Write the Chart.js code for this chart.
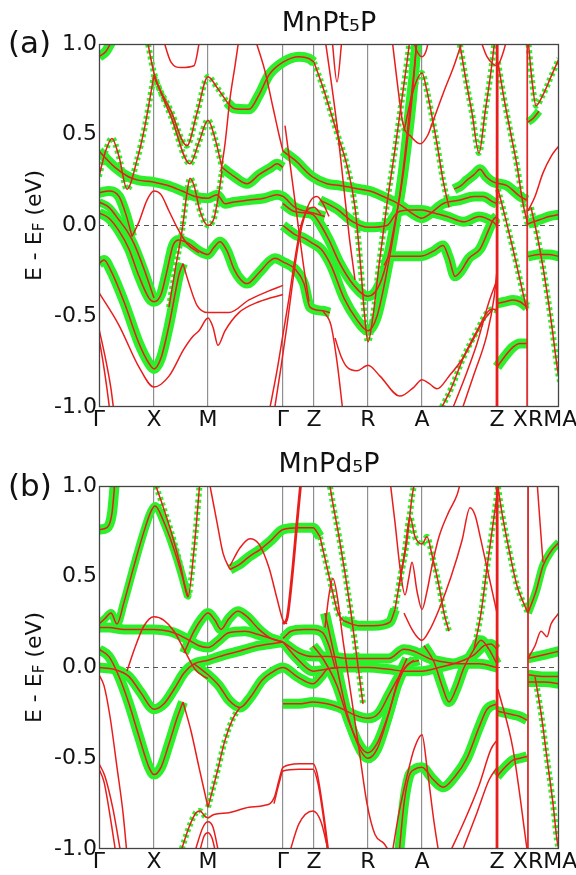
<!DOCTYPE html>
<html><head><meta charset="utf-8">
<script src="https://cdn.jsdelivr.net/npm/chart.js@4.4.0/dist/chart.umd.min.js"></script>
<style>
html,body{margin:0;padding:0;background:#fff;}
#wrap{position:relative;width:576px;height:875px;overflow:hidden;}
canvas{position:absolute;left:0;}
#ca{top:0;} #cb{top:440px;}
</style></head><body>
<div id="wrap"><canvas id="ca" width="576" height="440"></canvas><canvas id="cb" width="576" height="435"></canvas></div>
<script>
// ---- k-path (high-symmetry points, in path-length units) ----
const tickPos    = [0, 55, 109, 184, 215, 269, 323, 398, 429, 446, 460];
const tickLabels = ['Γ','X','M','Γ','Z','R','A','Z','','XRMA',''];
const symLines   = [55, 109, 184, 215, 269, 323, 398, 429];
const energyTicks = [-1.0, -0.5, 0.0, 0.5, 1.0];

// ---- Panel (a) MnPt5P bands: [k, E-EF] ----
const a01=[[0,0.93],[7,0.96],[14,1.03]];
const a02=[[0,0.27],[6,0.40],[13,0.48],[20,0.38],[28,0.20],[38,0.36],[46,0.55],[55,0.83]];
const a03=[[48,1.03],[55,0.84],[72,0.63],[88,0.44],[98,0.62],[109,0.82],[118,0.76],[128,0.68]];
const a04=[[128,0.68],[135,0.645],[150,0.64],[160,0.72],[170,0.83],[184,0.90],[200,0.93],[210,0.92],[215,0.90]];
const a05=[[215,0.90],[224,0.76],[238,0.51],[248,0.33],[256,0.10],[262,-0.25],[266,-0.52],[269,-0.64],[274,-0.50],[280,-0.22],[288,0.12],[296,0.42],[303,0.70],[308,0.90],[311,1.03]];
const a06=[[55,0.82],[72,0.60],[91,0.34],[100,0.46],[109,0.58],[116,0.48],[123,0.32]];
const a07=[[64,1.03],[72,0.90],[82,0.87],[95,0.88],[101,1.03]];
const a08=[[0,0.41],[16,0.32],[29,0.27],[39,0.25],[54,0.24],[69,0.22],[83,0.19],[96,0.16],[109,0.15],[118,0.17],[126,0.12],[135,0.13],[150,0.14],[165,0.15],[178,0.17],[184,0.16],[196,0.10],[213,0.07],[226,0.05]];
const a09=[[123,0.32],[135,0.27],[148,0.23],[160,0.28],[172,0.32],[178,0.34],[184,0.32]];
const a10=[[156,1.03],[166,0.85],[174,0.65],[180,0.50],[184,0.41]];
const a11=[[184,0.41],[196,0.36],[213,0.27],[228,0.23],[241,0.22],[261,0.20],[271,0.19],[288,0.15],[296,0.13]];
const a12=[[0,0.18],[10,0.19],[20,0.16],[27,0.06],[33,-0.06]];
const a13=[[33,-0.06],[40,0.02],[48,0.14],[55,0.19],[62,0.17],[70,0.08],[78,-0.01],[88,-0.10],[100,-0.15]];
const a14=[[0,0.07],[10,0.04],[20,-0.03],[30,-0.13],[40,-0.28],[50,-0.40],[55,-0.42],[62,-0.38],[68,-0.25],[74,-0.11],[80,-0.08],[90,-0.10],[100,-0.14],[109,-0.16],[115,-0.12],[121,-0.09],[128,-0.14],[135,-0.24],[142,-0.30],[148,-0.32],[160,-0.26],[170,-0.20],[176,-0.18],[184,-0.20],[196,-0.24],[205,-0.32],[211,-0.45],[224,-0.47],[231,-0.48]];
const a15=[[0,0.13],[10,0.10],[20,0.03],[28,-0.03],[35,-0.10],[45,-0.24],[55,-0.40]];
const a16=[[0,-0.21],[5,-0.19],[12,-0.25],[25,-0.42],[40,-0.65],[50,-0.76],[55,-0.79],[62,-0.73],[70,-0.55],[76,-0.38],[80,-0.27],[84,-0.21]];
const a17=[[84,-0.21],[90,-0.32],[98,-0.44],[109,-0.48],[130,-0.48],[150,-0.41],[170,-0.36],[184,-0.33]];
const a18=[[0,-0.37],[20,-0.55],[40,-0.78],[55,-0.89],[70,-0.83],[85,-0.68],[94,-0.61],[100,-0.58],[109,-0.51],[114,-0.56],[119,-0.66],[126,-0.58],[140,-0.48],[160,-0.42],[184,-0.38]];
const a19=[[0,-0.57],[6,-0.72],[12,-0.90],[15,-1.03]];
const a20=[[0,-0.62],[4,-0.75],[8,-0.90],[11,-1.03]];
const a21=[[170,-1.03],[178,-0.80],[184,-0.60],[190,-0.40],[196,-0.18],[202,0.0],[208,0.08],[215,0.10],[222,0.06]];
const a22=[[175,-1.03],[182,-0.78],[188,-0.55],[194,-0.30],[200,-0.08],[206,0.06],[212,0.14],[218,0.16],[224,0.12],[230,0.05]];
const a23=[[184,0.12],[194,0.08],[205,0.07],[214,0.06],[222,0.0],[230,-0.08],[240,-0.20],[255,-0.33],[269,-0.39],[281,-0.32],[290,-0.15],[296,0.02],[302,0.20],[308,0.45],[313,0.70],[318,1.03]];
const a24=[[184,0.0],[196,-0.05],[205,-0.07],[214,-0.10],[222,-0.13],[232,-0.22],[245,-0.40],[258,-0.52],[269,-0.58],[278,-0.50],[288,-0.25],[296,0.0],[304,0.30],[310,0.60],[315,0.85],[318,1.03]];
const a26=[[221,0.14],[238,0.09],[254,0.02],[269,-0.01],[288,0.0],[298,0.07],[310,0.085],[323,0.085],[334,0.07],[348,0.05],[365,0.02],[380,0.05],[394,0.02],[398,0.0]];
const a27=[[296,0.13],[305,0.10],[315,0.06],[323,0.04],[330,0.06],[344,0.12],[361,0.14],[375,0.16],[384,0.16],[394,0.13],[398,0.12]];
const a28=[[285,-0.22],[291,-0.17],[305,-0.17],[321,-0.17],[335,-0.14],[344,-0.11],[350,-0.18],[356,-0.28],[362,-0.25],[370,-0.18],[381,-0.13],[390,-0.02],[394,0.03],[398,0.05]];
const a29=[[355,0.20],[362,0.22],[368,0.25],[375,0.28],[381,0.31],[387,0.27],[394,0.24],[408,0.22],[421,0.16],[428,0.14]];
const a31=[[236,-0.62],[242,-0.72],[248,-0.78],[258,-0.80],[269,-0.77],[281,-0.83],[301,-0.94],[315,-0.89],[323,-0.85],[330,-0.87],[338,-0.90],[350,-0.83],[364,-0.73],[375,-0.62],[385,-0.52],[394,-0.46]];
const a32=[[224,-0.47],[232,-0.55],[238,-0.75],[244,-1.03]];
const a33=[[340,-1.03],[352,-0.90],[365,-0.72],[378,-0.58],[388,-0.48],[394,-0.46],[398,-0.47]];
const a34=[[352,-1.03],[365,-0.85],[378,-0.65],[390,-0.42],[398,-0.30]];
const a35=[[362,-1.03],[375,-0.82],[388,-0.60],[395,-0.40],[398,-0.25]];
const a36=[[398,-1.0],[398.2,1.0]];
const a37=[[428,-1.0],[428.2,1.0]];
const a38=[[398,-0.43],[406,-0.42],[414,-0.41],[421,-0.42],[428,-0.45]];
const a39=[[398,-0.78],[406,-0.72],[414,-0.67],[421,-0.65],[428,-0.65]];
const a40=[[399,0.20],[406,0.05],[414,-0.13],[421,-0.30],[428,-0.47]];
const a41=[[399,0.90],[405,0.70],[412,0.50],[418,0.33],[424,0.12],[429,0.0]];
const a42=[[429,-0.17],[440,-0.16],[450,-0.16],[460,-0.17]];
const a43=[[429,0.01],[440,0.03],[450,0.05],[460,0.06]];
const a45=[[432,0.10],[438,-0.05],[444,-0.23],[452,-0.52],[459,-0.81],[461,-0.86]];
const a46=[[429,0.08],[436,0.16],[444,0.29],[452,0.38],[460,0.44]];
const a47=[[429,1.03],[433,0.80],[437,0.66],[444,0.72],[452,0.82],[460,0.92]];
const a48=[[429,0.57],[434,0.59],[440,0.63]];
const a49=[[360,1.03],[366,0.83],[373,0.62],[380,0.40],[386,0.62],[392,0.85],[396,1.03]];
const a50=[[381,1.03],[388,0.93],[394,0.89],[398,0.88],[404,0.95],[408,1.03]];
const a51=[[293,1.03],[298,0.80],[304,0.56],[312,0.49],[321,0.45],[329,0.50],[333,0.56],[345,0.74],[355,0.88],[364,1.03]];
const a52=[[305,0.52],[314,0.74],[323,0.84],[328,0.74],[333,0.60],[338,0.45],[344,0.25],[350,0.10]];
const a53=[[314,1.03],[318,0.96],[323,0.93],[327,0.96],[330,1.03]];
const a54=[[226,1.03],[232,0.80],[238,0.55],[244,0.25],[250,-0.05],[256,-0.30]];
const a55=[[233,1.03],[238,0.79],[243,1.03]];
const a57=[[122,0.30],[126,0.45],[131,0.70],[136,0.88],[140,1.03]];
const a58=[[186,0.55],[192,0.30],[198,0.05],[204,-0.20],[210,-0.42]];
const a59=[[70,-0.45],[76,-0.25],[83,-0.03],[88,0.18],[91,0.26],[95,0.22],[101,0.08],[109,0.0],[115,0.04],[119,0.15],[123,0.30]];
const bandsA=[a01,a02,a03,a04,a05,a06,a07,a08,a09,a10,a11,a12,a13,a14,a15,a16,a17,a18,a19,a20,a21,a22,a23,a24,a26,a27,a28,a29,a31,a32,a33,a34,a35,a36,a37,a38,a39,a40,a41,a42,a43,a45,a46,a47,a48,a49,a50,a51,a52,a53,a54,a55,a57,a58,a59];
const fatA  =[3,1,1,3,1,1,0,3,3,0,3,3,0,3,2,3,0,0,0,0,0,0,3,3,3,3,3,3,0,0,1,0,0,0,0,3,3,1,1,3,3,1,0,1,2,1,0,0,1,0,0,0,0,0,1];
const thickA=[a36];

// ---- Panel (b) MnPd5P bands ----
const b01=[[0,0.76],[8,0.77],[13,0.85],[16,1.03]];
const b02=[[0,0.24],[6,0.27],[12,0.30],[18,0.24],[25,0.36],[35,0.56],[45,0.75],[52,0.86],[56,0.89],[65,0.80],[78,0.60],[89,0.39]];
const b03=[[55,1.03],[62,0.92],[72,0.75],[82,0.55],[89,0.39],[95,0.65],[101,1.03]];
const b04=[[110,1.03],[118,0.80],[124,0.63],[131,0.54]];
const b05=[[131,0.54],[141,0.57],[150,0.61],[161,0.65],[172,0.70],[184,0.76],[200,0.77],[214,0.77],[221,0.72]];
const b05b=[[221,0.72],[226,0.60],[231,0.48],[239,0.30],[244,0.26]];
const b05d=[[244,0.26],[250,0.245],[260,0.23],[274,0.23],[291,0.25],[296,0.32]];
const b05c=[[296,0.32],[301,0.48],[308,0.70],[313,0.94],[316,1.03]];
const b06=[[131,0.56],[141,0.66],[151,0.71],[160,0.68],[170,0.55],[178,0.38],[184,0.26],[188,0.24]];
const b07=[[184,0.24],[188,0.27],[193,0.50],[198,0.80],[202,1.03]];
const b08=[[28,-0.02],[36,0.11],[45,0.23],[55,0.28],[65,0.26],[75,0.20],[85,0.10],[96,-0.01],[105,-0.05],[109,-0.06]];
const b09=[[0,0.22],[10,0.22],[25,0.21],[40,0.21],[55,0.21],[70,0.20],[80,0.18],[90,0.15],[100,0.12],[109,0.11],[120,0.15],[129,0.19],[146,0.20],[160,0.18],[172,0.16],[184,0.14]];
const b10=[[85,0.08],[95,0.20],[103,0.27],[109,0.30],[116,0.26],[122,0.21],[130,0.27],[139,0.31],[148,0.28],[160,0.21],[172,0.16],[184,0.14]];
const b12=[[0,0.0],[15,-0.01],[30,-0.05],[42,-0.14],[55,-0.23],[65,-0.20],[75,-0.12],[85,-0.03],[95,0.02],[109,0.04],[120,0.06],[140,0.09],[160,0.12],[184,0.14]];
const b14=[[0,0.10],[10,0.06],[20,-0.05],[30,-0.20],[40,-0.38],[50,-0.55],[55,-0.59],[62,-0.55],[70,-0.42],[78,-0.28],[84,-0.19]];
const b15=[[84,-0.19],[92,-0.35],[100,-0.55],[109,-0.77]];
const b16=[[109,-0.77],[118,-0.58],[126,-0.40],[134,-0.28],[141,-0.22]];
const b17=[[95,0.02],[109,-0.04],[120,-0.10],[130,-0.18],[141,-0.22],[152,-0.16],[163,-0.07],[172,-0.03],[184,0.0],[198,-0.05],[214,-0.09],[222,-0.05],[228,-0.01],[240,0.0]];
const b18=[[0,-0.04],[5,-0.10],[11,-0.27],[18,-0.55],[24,-0.80],[28,-1.03]];
const b19=[[0,-0.53],[6,-0.60],[14,-0.78],[22,-1.03]];
const b20=[[0,-0.56],[5,-0.63],[12,-0.85],[17,-1.03]];
const b21=[[81,-1.03],[90,-0.88],[97,-0.80],[101,-0.79],[106,-0.82],[109,-0.83]];
const b22=[[109,-0.83],[115,-0.81],[130,-0.80],[150,-0.77],[165,-0.76],[175,-0.72],[180,-0.62],[184,-0.55],[200,-0.53],[214,-0.53],[218,-0.58],[224,-0.78],[230,-1.03]];
const b23=[[175,-0.75],[180,-0.64],[184,-0.57],[200,-0.56],[214,-0.56],[219,-0.64],[225,-0.85],[229,-1.03]];
const b24=[[95,-1.03],[104,-0.88],[109,-0.85],[114,-0.88],[120,-1.03]];
const b25=[[100,-1.03],[105,-0.93],[109,-0.91],[113,-0.94],[117,-1.03]];
const b26=[[190,-1.03],[200,-0.86],[214,-0.79],[222,-0.85],[230,-1.03]];
const b27=[[184,-0.20],[200,-0.20],[214,-0.19],[228,-0.20],[240,-0.22],[255,-0.26],[269,-0.28],[280,-0.25],[290,-0.15],[300,-0.05],[310,0.02],[320,0.04]];
const b28=[[214,0.12],[225,0.04],[238,-0.10],[250,-0.30],[262,-0.44],[269,-0.47],[278,-0.42],[288,-0.28],[298,-0.10],[306,0.0],[315,0.04]];
const b29=[[226,0.30],[236,0.05],[248,-0.25],[262,-0.46],[269,-0.50],[278,-0.45],[290,-0.25],[300,-0.05],[308,0.05]];
const b30=[[230,1.03],[234,0.90],[240,0.72],[246,0.52],[252,0.30],[258,0.05],[264,-0.20]];
const b31=[[226,0.22],[230,0.40],[234,0.49],[238,0.40],[244,0.15],[252,-0.15],[260,-0.45],[268,-0.75],[276,-0.92],[285,-0.97],[292,-1.03]];
const b32=[[293,-1.03],[300,-0.80],[308,-0.60],[315,-0.45],[323,-0.37],[328,-0.55],[335,-0.85],[340,-1.03]];
const b33=[[300,-1.03],[305,-0.75],[310,-0.60],[316,-0.56],[323,-0.55],[333,-0.61],[344,-0.66],[356,-0.60],[368,-0.50],[380,-0.33],[388,-0.23],[398,-0.20]];
const b34=[[325,0.12],[335,0.03],[343,-0.10],[350,-0.19],[357,-0.12],[365,0.0],[375,0.10],[382,0.15],[390,0.10],[398,0.02]];
const b35=[[184,0.14],[200,0.08],[214,0.06],[230,0.06],[250,0.05],[269,0.05],[290,0.05],[305,0.10],[315,0.09],[330,0.05],[345,0.03],[360,0.02],[380,0.02],[398,0.0]];
const b36=[[184,0.14],[198,0.05],[214,-0.02],[240,0.0],[269,0.0],[290,-0.01],[305,-0.02],[323,-0.02],[340,0.0],[360,0.03],[375,0.07],[385,0.12],[392,0.13],[398,0.10]];
const b37=[[291,1.03],[296,0.80],[301,0.55],[306,0.40],[310,0.50],[313,0.58],[318,0.42],[323,0.32],[328,0.42],[333,0.56],[340,0.72],[350,0.86],[358,0.95],[362,1.03]];
const b38=[[300,0.45],[306,0.65],[311,0.83],[316,0.72],[323,0.68],[328,0.72],[333,0.62],[340,0.45],[345,0.30],[350,0.20]];
const b39=[[305,0.30],[312,0.22],[318,0.17],[323,0.15],[330,0.20],[340,0.32],[352,0.50],[363,0.70],[371,0.88],[376,0.84],[382,0.70],[390,0.50],[398,0.30]];
const b40=[[375,0.10],[382,0.30],[388,0.55],[393,0.75],[398,0.95],[400,1.03]];
const b41=[[398,1.03],[403,0.85],[410,0.65],[418,0.45],[425,0.35],[429,0.30]];
const b42=[[429,0.30],[437,0.42],[444,0.56],[452,0.64],[460,0.69]];
const b43=[[438,1.03],[441,0.80],[444,0.58]];
const b44=[[429,0.05],[436,0.12],[442,0.20],[448,0.17],[452,0.24],[460,0.30]];
const b45=[[398,-0.24],[406,-0.25],[414,-0.26],[421,-0.27],[428,-0.29]];
const b46=[[398,-0.60],[406,-0.55],[414,-0.51],[421,-0.50],[428,-0.49]];
const b47=[[429,0.05],[445,0.07],[460,0.09]];
const b48=[[429,-0.04],[445,-0.05],[460,-0.05]];
const b49=[[429,-0.08],[445,-0.08],[460,-0.09]];
const b50=[[398,-1.0],[398.2,1.0]];
const b51=[[429,-1.0],[429.2,1.0]];
const b52=[[436,-0.05],[442,-0.25],[448,-0.50],[454,-0.75],[458,-0.95],[461,-1.03]];
const b53=[[350,-1.03],[365,-0.85],[380,-0.65],[392,-0.45],[398,-0.40]];
const b54=[[362,-1.03],[378,-0.80],[390,-0.62],[398,-0.55]];
const b55=[[399,-0.12],[414,-0.45],[428,-1.0]];
const b56=[[184,0.16],[192,0.20],[205,0.21],[214,0.21],[224,0.19],[230,0.12],[236,0.0]];
const bandsB=[b01,b02,b03,b04,b05,b05b,b05d,b05c,b06,b07,b08,b09,b10,b12,b14,b15,b16,b17,b18,b19,b20,b21,b22,b23,b24,b25,b26,b27,b28,b29,b30,b31,b32,b33,b34,b35,b36,b37,b38,b39,b40,b41,b42,b43,b44,b45,b46,b47,b48,b49,b50,b51,b52,b53,b54,b55,b56];
const fatB  =[3,2,1,0,3,1,3,1,0,0,0,3,3,3,3,0,1,3,0,0,0,1,0,0,0,0,0,3,3,3,1,0,0,3,3,3,3,0,1,0,1,1,2,0,0,3,3,3,3,3,0,0,1,0,0,0,3];
const thickB=[b50,b07];

const RED='#ea1d1d', GREEN='#2cf02c', GRID='#8f8f8f', FRAME='#444';
const FONT='DejaVu Sans';

function buildDatasets(bands, fat, thick){
  const ds=[];
  bands.forEach((b,i)=>{
    const pts=b.map(p=>({x:p[0],y:p[1]}));
    const w=fat[i];
    if(w>0){
      ds.push({data:pts,showLine:true,pointRadius:0,borderColor:GREEN,
        borderWidth: w===3?10:(w===2?8:6), borderDash: w===1?[3,3]:[],
        cubicInterpolationMode:'monotone',clip:0,order:3,borderCapStyle:'butt'});
    }
    ds.push({data:pts,showLine:true,pointRadius:0,borderColor:RED,
      borderWidth: thick.includes(b)?2.8:1.5, cubicInterpolationMode:'monotone',clip:0,order:1});
  });
  ds.push({data:[{x:0,y:0},{x:460,y:0}],showLine:true,pointRadius:0,borderColor:'#555',
    borderWidth:1.2,borderDash:[5,4],clip:0,order:4});
  return ds;
}

const framePlugin={id:'frame',
  afterDatasetsDraw(chart){
    const a=chart.chartArea, c=chart.ctx;
    c.save(); c.strokeStyle=FRAME; c.lineWidth=1.3;
    c.strokeRect(a.left+0.5,a.top+0.5,a.right-a.left-1,a.bottom-a.top-1);
    c.restore();
  },
  afterDraw(chart){
    const o=chart.options.plugins.frame, a=chart.chartArea, c=chart.ctx;
    c.save(); c.fillStyle='#111';
    c.font='31px "'+FONT+'"'; c.textBaseline='alphabetic'; c.textAlign='left';
    c.fillText(o.panel,8,o.panelY);
    // y-axis title with subscript
    c.translate(35,(a.top+a.bottom)/2); c.rotate(-Math.PI/2);
    const big='22px "'+FONT+'"', small='15px "'+FONT+'"';
    c.font=big; const w1=c.measureText('E - E').width; const w3=c.measureText(' (eV)').width;
    c.font=small; const w2=c.measureText('F').width;
    let x=-(w1+w2+w3)/2; c.textBaseline='middle';
    c.font=big; c.fillText('E - E',x,0); x+=w1;
    c.font=small; c.fillText('F',x,5); x+=w2;
    c.font=big; c.fillText(' (eV)',x,0);
    c.restore();
  }};

function makeChart(id,title,panel,panelY,bands,fat,thick,titleTop,titleBottom,axisH){
  return new Chart(document.getElementById(id),{
    type:'scatter',
    data:{datasets:buildDatasets(bands,fat,thick)},
    options:{responsive:false,animation:false,devicePixelRatio:1,
      layout:{padding:{left:0,right:17,top:0,bottom:0}},
      plugins:{legend:{display:false},tooltip:{enabled:false},
        title:{display:true,text:title,fullSize:false,color:'#111',
          font:{family:FONT,size:27,weight:'normal',lineHeight:1.2},padding:{top:titleTop,bottom:titleBottom}},
        frame:{panel:panel,panelY:panelY}},
      scales:{
        x:{type:'linear',min:0,max:460,
          afterBuildTicks:s=>{s.ticks=tickPos.map(v=>({value:v}));},
          afterFit:s=>{s.height=axisH;},
          ticks:{autoSkip:false,maxRotation:0,padding:0,color:'#111',font:{family:FONT,size:22},
            callback:(v,i)=>tickLabels[i]},
          grid:{drawTicks:false,lineWidth:1.2,
            color:ctx=>(ctx.tick && symLines.includes(ctx.tick.value))?GRID:'rgba(0,0,0,0)'},
          border:{display:false}},
        y:{type:'linear',min:-1,max:1,
          afterBuildTicks:s=>{s.ticks=energyTicks.map(v=>({value:v}));},
          afterFit:s=>{s.width=99;},
          ticks:{padding:2,color:'#111',font:{family:FONT,size:22},callback:v=>v.toFixed(1)},
          grid:{display:false,drawTicks:false},border:{display:false}}
      }},
    plugins:[framePlugin]
  });
}
makeChart('ca','MnPt₅P','(a)',53,bandsA,fatA,thickA,8,3.6,33);
makeChart('cb','MnPd₅P','(b)',56,bandsB,fatB,thickB,9,4.6,26);
</script></body></html>
